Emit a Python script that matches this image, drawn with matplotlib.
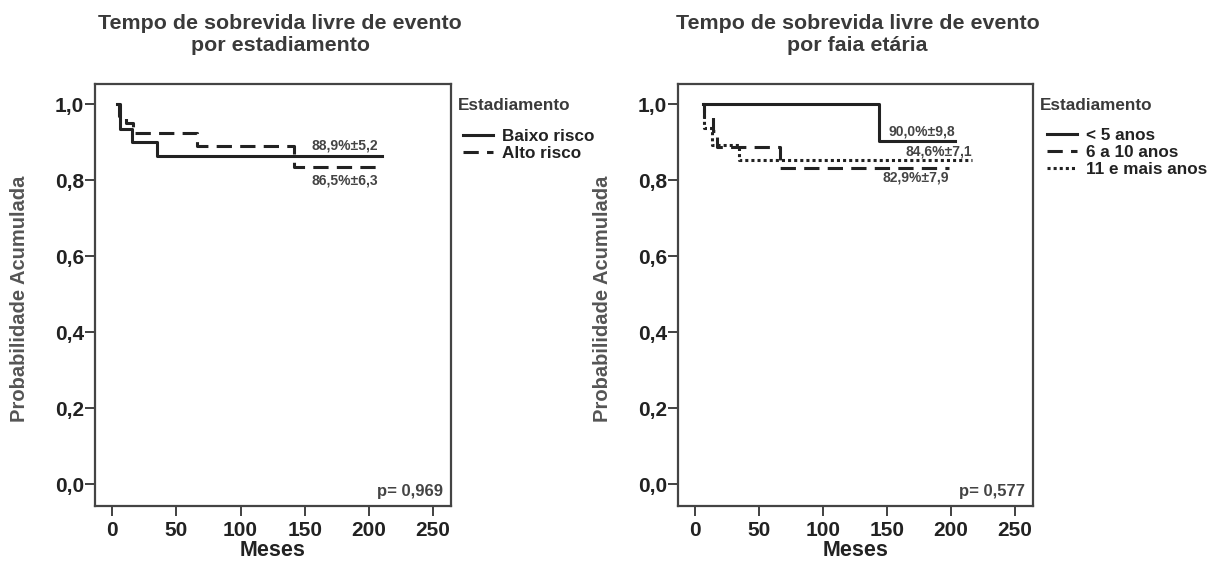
import matplotlib
matplotlib.use('Agg')
import matplotlib.pyplot as plt
from matplotlib.ticker import FuncFormatter

plt.rcParams['font.family'] = ['Liberation Sans', 'DejaVu Sans']
plt.rcParams['font.weight'] = 'bold'

# painel 1: estadiamento
baixo_t = [4, 6, 15, 35, 210]
baixo_s = [1.0, 0.935, 0.900, 0.864, 0.864]
alto_t = [4, 5, 11, 16, 66, 142, 208]
alto_s = [1.0, 0.970, 0.950, 0.925, 0.891, 0.834, 0.834]
labels1 = ['Baixo risco', 'Alto risco']
notas1 = ['88,9%±5,2', '86,5%±6,3']
notas1_pos = [(181, 0.891), (181, 0.800)]

# painel 2: faixa etaria
menor5_t = [6, 144, 203]
menor5_s = [1.0, 0.903, 0.903]
de6a10_t = [6, 7, 14, 17, 66, 198]
de6a10_s = [1.0, 0.967, 0.928, 0.888, 0.832, 0.832]
mais11_t = [6, 7, 13, 34, 216]
mais11_s = [1.0, 0.937, 0.893, 0.853, 0.853]
labels2 = ['< 5 anos', '6 a 10 anos', '11 e mais anos']
notas2 = ['90,0%±9,8', '84,6%±7,1', '82,9%±7,9']
notas2_pos = [(177, 0.928), (190, 0.875), (172, 0.806)]

xticks = [0, 50, 100, 150, 200, 250]
yticks = [0.0, 0.2, 0.4, 0.6, 0.8, 1.0]

LC = '#222222'
GC = '#3a3a3a'
lw = 2.2
dash = (0, (5, 2.7))
dot = (0, (1, 1))

W, H = 1209, 565
fig = plt.figure(figsize=(W / 100, H / 100), dpi=100)
ax1 = fig.add_axes([0.0786, 0.1044, 0.2944, 0.747])
ax2 = fig.add_axes([0.5608, 0.1044, 0.2936, 0.747])


def estilo(ax, titulo, tx):
    ax.set_xlim(-13.5, 264)
    ax.set_ylim(-0.057, 1.053)
    ax.set_xticks(xticks)
    ax.set_yticks(yticks)
    ax.yaxis.set_major_formatter(FuncFormatter(lambda v, p: f'{v:.1f}'.replace('.', ',')))
    ax.tick_params(direction='out', length=7, width=1.3, colors='#333333',
                   labelsize=15, labelcolor='#222222')
    ax.tick_params(axis='x', pad=4)
    ax.tick_params(axis='y', pad=1)
    for s in ax.spines.values():
        s.set_color('#444444')
        s.set_linewidth(1.6)
    ax.set_xlabel('Meses', fontsize=15.5, fontweight='bold', color='#222222', labelpad=0)
    ax.set_ylabel('Probabilidade Acumulada', fontsize=14.5, fontweight='bold', color='#555555')
    ax.yaxis.set_label_coords(-0.185, 0.49)
    ax.set_title(titulo, fontsize=15.4, fontweight='bold', color=GC, pad=24,
                 linespacing=1.2, x=tx)


def legenda(ax, handles, labels, x_tit, x_hand, y_first):
    fig.text(x_tit / W, 1 - 105 / H, 'Estadiamento', fontsize=12.3, fontweight='bold',
             color=GC, ha='left', va='center')
    leg = fig.legend(handles, labels, loc='upper left',
                     bbox_to_anchor=(x_hand / W, 1 - y_first / H), frameon=False,
                     fontsize=12.3, handlelength=1.75, handletextpad=0.55,
                     labelspacing=0.12, borderpad=0, borderaxespad=0)
    for t in leg.get_texts():
        t.set_color('#222222')


h1 = ax1.step(baixo_t, baixo_s, where='post', color=LC, lw=lw, label=labels1[0])
h2 = ax1.step(alto_t, alto_s, where='post', color=LC, lw=lw, linestyle=dash, label=labels1[1])
for txt, (x, y) in zip(notas1, notas1_pos):
    ax1.text(x, y, txt, ha='center', va='center', fontsize=10, fontweight='bold', color='#444444')
ax1.text(0.978, 0.035, 'p= 0,969', transform=ax1.transAxes, ha='right', va='center',
         fontsize=12, fontweight='bold', color='#444444')
estilo(ax1, 'Tempo de sobrevida livre de evento\npor estadiamento', 0.52)

g1 = ax2.step(menor5_t, menor5_s, where='post', color=LC, lw=lw, label=labels2[0])
g2 = ax2.step(de6a10_t, de6a10_s, where='post', color=LC, lw=lw, linestyle=dash, label=labels2[1])
g3 = ax2.step(mais11_t, mais11_s, where='post', color=LC, lw=lw, linestyle=dot, label=labels2[2])
for txt, (x, y) in zip(notas2, notas2_pos):
    ax2.text(x, y, txt, ha='center', va='center', fontsize=10, fontweight='bold', color='#444444')
ax2.text(0.978, 0.035, 'p= 0,577', transform=ax2.transAxes, ha='right', va='center',
         fontsize=12, fontweight='bold', color='#444444')
estilo(ax2, 'Tempo de sobrevida livre de evento\npor faia etária', 0.506)

legenda(ax1, h1 + h2, labels1, 458, 463, 129)
legenda(ax2, g1 + g2 + g3, labels2, 1040, 1047, 128)

fig.savefig('out.png', dpi=100)
